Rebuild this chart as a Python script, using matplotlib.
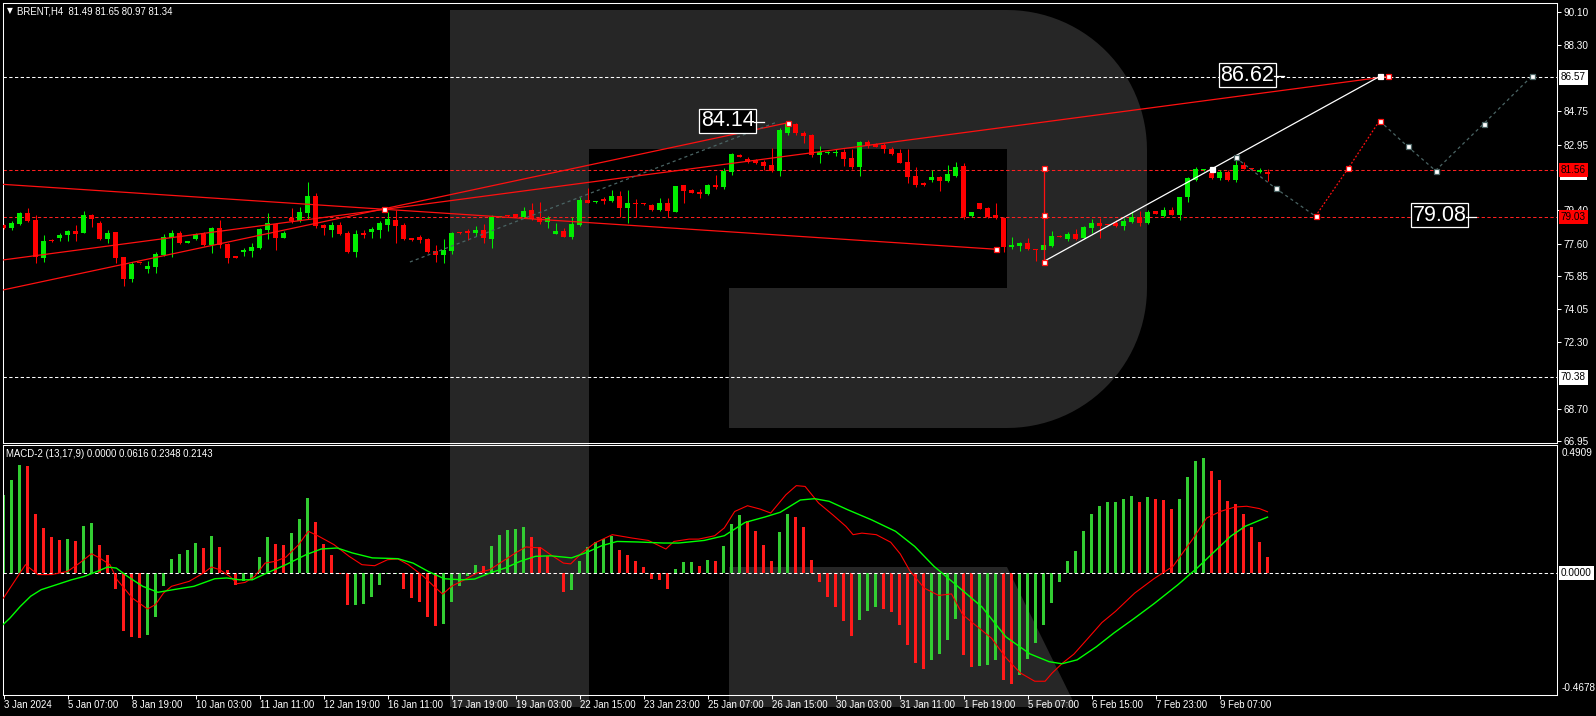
import numpy as np
import matplotlib
matplotlib.use('Agg')
import matplotlib.pyplot as plt
from matplotlib.patches import Polygon

W, H = 1596, 716
NARROW = ['Liberation Sans Narrow', 'Liberation Sans', 'DejaVu Sans']
plt.rcParams['font.family'] = NARROW

# ---------------- data ----------------
opens = [78.61,78.46,78.68,79.25,78.88,76.84,77.78,77.92,78.07,78.28,
         78.19,79.13,78.71,77.85,78.23,76.88,75.71,76.55,76.23,76.36,
         76.99,77.92,78.17,77.65,77.85,78.10,77.53,78.44,77.58,76.87,
         77.17,77.20,77.36,78.34,78.66,77.90,78.98,78.82,79.25,80.17,
         78.61,78.34,78.61,78.17,77.17,78.17,78.23,78.35,78.61,78.88,
         78.61,77.90,77.96,77.85,77.20,76.99,77.20,78.19,78.28,78.17,
         78.34,77.85,79.04,79.12,79.18,79.05,79.41,78.98,78.79,78.14,
         78.28,77.97,78.61,79.97,79.83,80.03,79.92,80.17,79.54,79.79,
         79.77,79.67,79.41,79.77,79.33,80.74,80.49,80.37,80.28,80.74,
         80.67,81.48,82.38,82.15,82.11,82.00,81.83,81.54,83.59,84.06,
         83.59,83.46,82.38,82.47,82.49,82.54,82.20,81.72,83.10,82.98,
         82.92,82.69,82.51,82.00,81.25,80.89,81.03,81.20,80.98,81.25,
         81.79,79.07,79.77,79.50,79.14,79.00,77.44,77.49,77.65,77.31,
         77.26,77.47,78.00,77.85,78.12,77.89,78.46,78.73,78.64,78.69,
         78.55,78.77,79.05,78.69,79.34,79.09,79.41,79.13,80.10,81.03,
         81.56,81.39,81.16,81.48,81.03,81.84,81.66,81.47,81.49]
highs = [78.66,78.82,79.31,79.52,79.13,78.07,77.83,78.19,78.34,78.61,
         79.36,79.18,78.82,78.34,78.25,76.90,76.59,76.58,76.66,77.15,
         78.10,78.34,78.28,77.76,78.16,78.23,78.50,78.88,77.63,76.89,
         77.35,77.65,78.46,79.25,78.71,78.28,79.52,79.58,80.93,80.33,
         78.66,78.77,78.77,78.28,78.34,78.34,78.50,78.82,79.31,79.42,
         78.71,77.92,78.07,77.90,77.53,77.85,78.23,78.21,78.39,78.55,
         78.66,79.15,79.10,79.15,79.22,79.57,79.77,79.87,79.09,78.70,
         78.43,79.02,80.10,80.60,79.88,80.12,80.49,80.44,80.49,80.01,
         79.81,79.74,80.06,80.04,80.71,80.76,80.53,80.53,80.82,81.30,
         81.70,82.47,82.42,82.29,82.15,82.11,82.74,83.82,84.20,84.13,
         83.68,83.52,82.87,82.58,82.69,82.71,82.71,83.16,83.19,83.01,
         83.01,82.83,82.71,82.71,81.75,80.93,81.57,81.23,81.84,81.99,
         81.97,79.31,79.80,79.59,79.81,79.02,77.94,77.67,77.89,77.33,
         77.62,78.26,78.05,78.21,78.37,78.57,78.91,78.97,78.67,78.87,
         78.97,79.34,79.34,79.41,79.37,79.59,79.59,80.14,81.18,81.72,
         81.63,81.66,81.57,81.57,82.29,82.02,81.69,81.66,81.65]
lows = [78.41,78.35,78.62,78.79,76.57,76.63,77.70,77.76,77.76,77.76,
        78.16,78.52,77.80,77.65,76.57,75.33,75.55,76.50,76.03,76.03,
        76.93,76.90,77.56,77.63,77.80,77.47,77.11,77.35,76.54,76.83,
        76.93,76.90,77.31,77.85,77.26,77.88,78.70,78.77,78.93,78.44,
        78.07,77.96,78.07,77.09,76.90,77.90,77.90,77.90,78.28,77.63,
        77.80,77.74,77.62,77.09,76.61,76.55,77.04,78.14,77.80,78.01,
        77.65,77.36,79.02,79.06,79.02,78.96,78.87,78.64,78.43,78.12,
        77.94,77.83,78.55,79.80,79.82,79.76,79.87,79.05,78.73,79.05,
        79.70,79.38,79.36,79.05,79.29,79.81,80.31,80.08,80.22,80.53,
        80.53,81.32,82.26,81.97,81.88,81.57,81.48,81.25,83.46,83.46,
        83.01,82.26,81.93,82.45,82.33,81.81,81.61,81.25,82.74,82.80,
        82.47,82.38,81.93,80.85,80.64,80.73,80.94,80.46,80.94,81.21,
        78.93,79.05,79.45,78.96,78.93,77.17,77.31,77.22,77.26,76.66,
        77.20,77.40,77.94,77.76,77.81,77.83,78.16,77.89,78.58,78.51,
        78.34,78.69,78.55,78.66,79.20,79.05,79.13,78.87,79.86,81.00,
        81.54,81.09,81.03,81.00,80.94,81.61,81.60,81.43,80.97]
closes = [78.46,78.71,79.25,78.82,76.86,77.74,77.75,78.07,78.28,78.14,
          79.15,78.95,77.85,78.17,76.84,75.71,76.52,76.53,76.39,77.04,
          77.96,78.17,77.63,77.74,78.10,77.53,78.44,77.53,76.84,76.85,
          77.27,77.42,78.39,78.71,77.90,78.17,78.82,79.31,80.17,78.55,
          78.46,78.61,78.12,77.17,78.12,78.07,78.39,78.71,78.93,78.55,
          77.85,77.80,77.80,77.17,76.99,77.26,78.17,78.16,78.17,78.34,
          77.90,79.04,79.08,79.09,79.05,79.36,78.91,78.79,79.00,78.28,
          77.97,78.66,79.95,79.81,79.86,79.92,80.17,79.54,79.81,79.76,
          79.75,79.41,79.77,79.38,80.71,80.46,80.35,80.28,80.74,80.64,
          81.54,82.42,82.29,82.02,81.97,81.79,81.52,83.73,84.13,83.55,
          83.41,82.38,82.54,82.56,82.54,82.15,81.75,83.10,82.89,82.83,
          82.69,82.44,81.97,81.21,80.76,80.76,81.18,80.98,81.36,81.72,
          79.05,79.29,79.49,79.05,78.96,77.44,77.53,77.65,77.29,77.26,
          77.53,78.03,77.97,78.12,77.85,78.51,78.69,78.55,78.62,78.57,
          78.82,79.05,78.73,79.31,79.22,79.41,79.15,80.12,81.16,81.61,
          81.61,81.16,81.48,81.03,81.84,81.65,81.63,81.57,81.34]

hist = [0.300,0.358,0.415,0.409,0.227,0.172,0.137,0.128,0.132,0.124,
        0.181,0.192,0.109,0.070,-0.062,-0.221,-0.247,-0.250,-0.239,-0.170,
        -0.049,0.055,0.074,0.087,0.116,0.094,0.143,0.101,0.013,-0.045,
        -0.032,-0.025,0.063,0.137,0.112,0.109,0.154,0.207,0.289,0.196,
        0.112,0.070,-0.005,-0.124,-0.121,-0.119,-0.093,-0.047,-0.004,-0.002,
        -0.060,-0.097,-0.112,-0.170,-0.205,-0.196,-0.112,-0.051,-0.010,0.032,
        0.026,0.102,0.147,0.166,0.167,0.178,0.139,0.100,0.064,-0.003,
        -0.074,-0.064,0.045,0.098,0.118,0.130,0.143,0.089,0.070,0.045,
        0.022,-0.023,-0.028,-0.061,0.017,0.041,0.042,0.028,0.051,0.047,
        0.102,0.189,0.224,0.201,0.162,0.109,0.045,0.156,0.228,0.213,
        0.175,0.051,-0.036,-0.093,-0.131,-0.183,-0.243,-0.179,-0.147,-0.132,
        -0.137,-0.151,-0.198,-0.277,-0.345,-0.368,-0.335,-0.309,-0.256,-0.175,
        -0.313,-0.362,-0.355,-0.351,-0.335,-0.412,-0.425,-0.390,-0.330,-0.270,
        -0.200,-0.115,-0.033,0.047,0.086,0.163,0.228,0.258,0.273,0.274,
        0.285,0.297,0.274,0.293,0.285,0.281,0.247,0.285,0.370,0.431,
        0.442,0.392,0.358,0.277,0.266,0.228,0.178,0.120,0.0616]
hist_col = ("gggrrrrrgr" "ggrrrrrrgg" "gggggrgrrr" "ggggrrgggr" "rrrrgggggg"
            "rrrrrggggg" "rgggggrrrr" "rggggggrrr" "rrrrgggrgr" "gggrrrrggr"
            "rrrrrrrggg" "rrrrrrgggg" "rrgggrrggg" "gggggggggg" "ggrgrrrggg"
            "grrrrrrrr")

macd_x = [0,2.75,4.3,6,8,9.5,11,12,13.3,14.2,16.1,18,19,20,21,23.2,25,26,27,28.3,29.2,30.2,31.4,
          32.7,34,35.3,36.9,38.1,39.4,41.3,43.2,44.8,46.4,48,49.3,50.6,52.5,53.8,54.9,56,57.6,59.2,
          60.8,62.4,64,65.3,67.2,68.4,70,70.9,72.3,73.9,76.1,78.6,80.6,82.8,83.8,85.7,86.9,88.9,
          90.1,91.4,93,94.6,95.9,97.8,99.1,100.2,101.9,103.7,105.3,106.2,107.3,109.1,110.9,112.1,
          113.3,115.1,116.9,118.5,119.9,121.7,123.5,125.3,127.1,128.9,130.2,131.1,132.4,133.8,
          135.4,137.3,139,141.4,143.8,145.2,146.2,148.6,150.4,152.1,153.9,155.4,157,158]
macd_y = [-0.096,0.032,-0.006,-0.006,0.006,0.038,0.074,0.058,0.032,-0.026,-0.096,-0.138,-0.121,
          -0.077,-0.051,-0.032,0.0,0.023,0.013,-0.013,-0.041,-0.036,-0.013,0.038,0.045,0.061,0.109,
          0.160,0.141,0.109,0.064,0.032,0.028,0.051,0.054,0.032,-0.013,-0.051,-0.081,-0.051,-0.026,
          0.0,0.013,0.045,0.077,0.100,0.096,0.070,0.038,0.035,0.077,0.115,0.147,0.134,0.125,0.092,
          0.121,0.130,0.130,0.143,0.173,0.236,0.258,0.245,0.230,0.300,0.335,0.332,0.268,0.222,
          0.179,0.147,0.153,0.147,0.118,0.073,0.008,-0.058,-0.086,-0.080,-0.160,-0.205,-0.250,
          -0.325,-0.383,-0.415,-0.415,-0.383,-0.345,-0.311,-0.256,-0.190,-0.147,-0.077,-0.022,
          0.006,0.026,0.128,0.211,0.236,0.253,0.256,0.247,0.2348]
sig_x = [-0.06,0.8,2.1,3.4,4.7,6.6,8.5,10.1,11.7,13,14.1,15.5,17.4,19.3,21.2,23.8,26.4,27.9,29.5,
         31.1,32.7,35.3,37.8,39.7,41.7,43.6,46.1,49.3,51.2,53.1,55.1,57.3,58.9,60.8,62.7,64.6,66.5,
         68.4,71,72.9,74.8,76.7,79.3,82.5,84.4,87.6,90.1,92.7,95.2,97.1,99.6,101.4,103.2,105.5,
         108.5,111.5,113.9,116.3,118.7,122.3,125.3,128.3,130.7,132.3,134.2,136.6,138.8,141.3,
         143.8,146.8,149.2,151.6,153.4,155.2,157,158]
sig_y = [-0.198,-0.173,-0.128,-0.089,-0.064,-0.045,-0.026,-0.013,0.006,0.023,0.019,-0.013,-0.051,
         -0.074,-0.064,-0.051,-0.022,-0.019,-0.026,-0.026,-0.003,0.032,0.070,0.092,0.096,0.077,
         0.058,0.055,0.038,0.006,-0.022,-0.026,-0.023,0.0,0.019,0.045,0.064,0.066,0.058,0.079,
         0.105,0.121,0.119,0.115,0.115,0.125,0.143,0.194,0.215,0.233,0.280,0.285,0.275,0.243,
         0.204,0.160,0.102,0.026,-0.036,-0.130,-0.245,-0.310,-0.340,-0.348,-0.333,-0.283,-0.230,
         -0.175,-0.118,-0.045,0.019,0.089,0.141,0.179,0.202,0.2143]

date_labels = ["3 Jan 2024", "5 Jan 07:00", "8 Jan 19:00", "10 Jan 03:00", "11 Jan 11:00",
               "12 Jan 19:00", "16 Jan 11:00", "17 Jan 19:00", "19 Jan 03:00", "22 Jan 15:00",
               "23 Jan 23:00", "25 Jan 07:00", "26 Jan 15:00", "30 Jan 03:00", "31 Jan 11:00",
               "1 Feb 19:00", "5 Feb 07:00", "6 Feb 15:00", "7 Feb 23:00", "9 Feb 07:00"]
date_bars = [0, 8, 16, 24, 32, 40, 48, 56, 64, 72, 80, 88, 96, 104, 112, 120, 128, 136, 144, 152]
price_ticks = [90.10, 88.30, 84.75, 82.95, 79.40, 77.60, 75.85, 74.05, 72.30, 68.70, 66.95]

levels_white = [86.57, 70.38]
levels_red = [81.56, 79.03]
current_price = 81.34

# trend lines: start bar, start price, end bar, end price
trend_lines = [(-0.0625, 80.80, 124.0, 77.30),
               (-0.0625, 75.10, 98.0, 84.12),
               (-0.0625, 76.72, 173.0, 86.62)]
gray_line_x = [50.8, 96.8]
gray_line_y = [76.61, 84.18]
white_line_x = [130, 151, 172]
white_line_y = [76.63, 81.625, 86.62]
vline_bar = 130
vline_prices = [76.63, 79.14, 81.66]
proj_x = [154, 159, 164, 168.1, 172, 175.5, 179, 185, 191]
proj_y = [82.25, 80.59, 79.08, 81.67, 84.23, 82.85, 81.54, 84.06, 86.62]
tags = [("84.14", 90.5, 84.22), ("86.62", 155.5, 86.70), ("79.08", 179.5, 79.14)]

# ---------------- figure ----------------
fig = plt.figure(figsize=(W / 100, H / 100), dpi=100, facecolor='black')

def fx(x):
    return x / W

def fy(y):
    return 1 - y / H

# watermark logo
wm = '#262626'
th1 = np.linspace(np.pi / 2, 0, 30)
th2 = np.linspace(0, -np.pi / 2, 30)
outline = [(450, 10), (1007, 10)]
outline += [(1007 + 140 * np.cos(t), 150 - 140 * np.sin(t)) for t in th1]
outline += [(1007 + 140 * np.cos(t), 288 - 140 * np.sin(t)) for t in th2]
outline += [(729, 428), (729, 288), (1007, 288), (1007, 149), (589, 149), (589, 707), (450, 707)]
fig.add_artist(Polygon([(fx(a), fy(b)) for a, b in outline], closed=True, transform=fig.transFigure,
                       facecolor=wm, edgecolor='none', zorder=-1))
leg = [(729, 567), (1007, 567), (1076, 707), (729, 707)]
fig.add_artist(Polygon([(fx(a), fy(b)) for a, b in leg], closed=True, transform=fig.transFigure,
                       facecolor=wm, edgecolor='none', zorder=-1))

ax1 = fig.add_axes([fx(3), fy(443), 1554 / W, 440 / H])
ax2 = fig.add_axes([fx(3), fy(695), 1554 / W, 250 / H])
for ax in (ax1, ax2):
    ax.set_facecolor('none')
    ax.set_xlim(-0.0625, 194.1875)
    for s in ax.spines.values():
        s.set_color('white')
        s.set_linewidth(0.75)

ax1.set_ylim(66.842, 90.586)
ax2.set_ylim(-0.4678, 0.4909)

# ---- price panel ----
idx = np.arange(len(opens))
o = np.array(opens); c = np.array(closes); hi = np.array(highs); lo = np.array(lows)
bull = c >= o
ccol = np.where(bull, '#00EE00', '#FF0000')
ax1.vlines(idx, lo, hi, colors=ccol, linewidth=0.75, zorder=3)
bot = np.minimum(o, c)
hgt = np.maximum(np.abs(c - o), 0.06)
ax1.bar(idx, hgt, bottom=bot, width=0.625, color=ccol, linewidth=0, zorder=3)

dash = (0, (3.2, 2.3))
for lv in levels_white:
    ax1.axhline(lv, color='white', linestyle=dash, linewidth=0.75, zorder=2)
for lv in levels_red:
    ax1.axhline(lv, color='#FF2020', linestyle=dash, linewidth=0.75, zorder=2)

for x0, y0, x1, y1 in trend_lines:
    ax1.plot([x0, x1], [y0, y1], color='#FF1010', linewidth=0.9, zorder=4)
ax1.plot(gray_line_x, gray_line_y, color='#4A6464', linestyle=(0, (2.5, 2.5)), linewidth=0.9, zorder=4)

ax1.plot([vline_bar, vline_bar], [vline_prices[0], vline_prices[-1]], color='#FF1010', linewidth=0.9, zorder=4)
ax1.plot([white_line_x[0], white_line_x[-1]], [white_line_y[0], white_line_y[-1]], color='white',
         linewidth=0.9, zorder=4)
ax1.plot(proj_x[:3], proj_y[:3], color='#4A6464', linestyle=(0, (2.5, 2.5)), linewidth=0.9, zorder=4)
ax1.plot(proj_x[2:5], proj_y[2:5], color='#FF1010', linestyle=(0, (1.5, 1.5)), linewidth=0.9, zorder=4)
ax1.plot(proj_x[4:], proj_y[4:], color='#4A6464', linestyle=(0, (2.5, 2.5)), linewidth=0.9, zorder=4)

mk = dict(marker='s', markersize=3.6, markerfacecolor='white', linestyle='none', zorder=6)
ax1.plot([vline_bar] * 3, vline_prices, markeredgecolor='#FF1010', markeredgewidth=0.9, **mk)
ax1.plot([47.5, 98, 124, 173], [79.45, 84.12, 77.30, 86.62], markeredgecolor='#FF1010',
         markeredgewidth=0.9, **mk)
ax1.plot([proj_x[2], proj_x[3], proj_x[4]], [proj_y[2], proj_y[3], proj_y[4]],
         markeredgecolor='#FF1010', markeredgewidth=0.9, **mk)
ax1.plot([proj_x[0], proj_x[1], proj_x[5], proj_x[6], proj_x[7], proj_x[8]],
         [proj_y[0], proj_y[1], proj_y[5], proj_y[6], proj_y[7], proj_y[8]],
         markeredgecolor='#4A6464', markeredgewidth=0.9, **mk)
ax1.plot(white_line_x[1:], white_line_y[1:], markeredgecolor='white', markeredgewidth=0.9, **mk)

for txt, bx, by in tags:
    ax1.text(bx, by, txt, ha='center', va='center', color='white', fontsize=15.5,
             bbox=dict(boxstyle='square,pad=0.06', fc='black', ec='white', lw=0.9), zorder=7)
    ax1.plot([bx + 3.3, bx + 4.6], [by - 0.08, by - 0.08], color='white', linewidth=0.9, zorder=7)

ax1.set_xticks([])
ax1.yaxis.tick_right()
ax1.set_yticks(price_ticks)
ax1.set_yticklabels([f"{v:.2f}" for v in price_ticks])
ax1.tick_params(axis='y', colors='white', length=3, width=0.75, pad=1.5, labelsize=7.2,
                direction='out', left=False)

def axis_box(ax, val, txt, fc, pad=0.22):
    ax.annotate(txt, xy=(1, val), xycoords=('axes fraction', 'data'), xytext=(4, 0),
                textcoords='offset pixels', ha='left', va='center', fontsize=7.2, color='black',
                bbox=dict(boxstyle=f'square,pad={pad}', fc=fc, ec='none'), annotation_clip=False,
                zorder=8)

axis_box(ax1, current_price, f"{current_price:.2f}", 'white', pad=0.1)
for lv in levels_white:
    axis_box(ax1, lv, f"{lv:.2f}", 'white')
for lv in levels_red:
    axis_box(ax1, lv, f"{lv:.2f}", '#FF0000')

fig.text(fx(7), fy(11), '\u25BC', color='white', fontsize=5.5, va='center', ha='left',
         family=['DejaVu Sans'])
fig.text(fx(17), fy(11), 'BRENT,H4  81.49 81.65 80.97 81.34', color='white', fontsize=6.9,
         va='center', ha='left')

# ---- MACD panel ----
hcol = ['#32CD32' if ch == 'g' else '#FF1A1A' for ch in hist_col]
ax2.bar(np.arange(len(hist)), hist, width=0.375, color=hcol, linewidth=0, zorder=2)
ax2.axhline(0, color='white', linestyle=dash, linewidth=0.75, zorder=3)
ax2.plot(macd_x, macd_y, color='#FF0000', linewidth=0.8, zorder=4)
ax2.plot(sig_x, sig_y, color='#00FF00', linewidth=1.0, zorder=4)

ax2.set_yticks([])
ax2.set_xticks(date_bars)
ax2.tick_params(axis='x', colors='white', length=3, width=0.75, labelbottom=False, direction='out')
for lab, xb in zip(date_labels, date_bars):
    ax2.annotate(lab, xy=(xb, 0), xycoords=('data', 'axes fraction'), xytext=(1, -10),
                 textcoords='offset pixels', ha='left', va='center', color='white', fontsize=6.9,
                 annotation_clip=False)

ax2.annotate('0.4909', xy=(1, 1), xycoords='axes fraction', xytext=(5, -3), textcoords='offset pixels',
             ha='left', va='top', color='white', fontsize=7.2, annotation_clip=False)
ax2.annotate('-0.4678', xy=(1, 0), xycoords='axes fraction', xytext=(5, 2), textcoords='offset pixels',
             ha='left', va='bottom', color='white', fontsize=7.2, annotation_clip=False)
axis_box(ax2, 0.0, '0.0000', 'white')

fig.text(fx(6), fy(454), 'MACD-2 (13,17,9) 0.0000 0.0616 0.2348 0.2143', color='white', fontsize=6.9,
         va='center', ha='left')

fig.savefig('out.png', dpi=100, facecolor='black')
